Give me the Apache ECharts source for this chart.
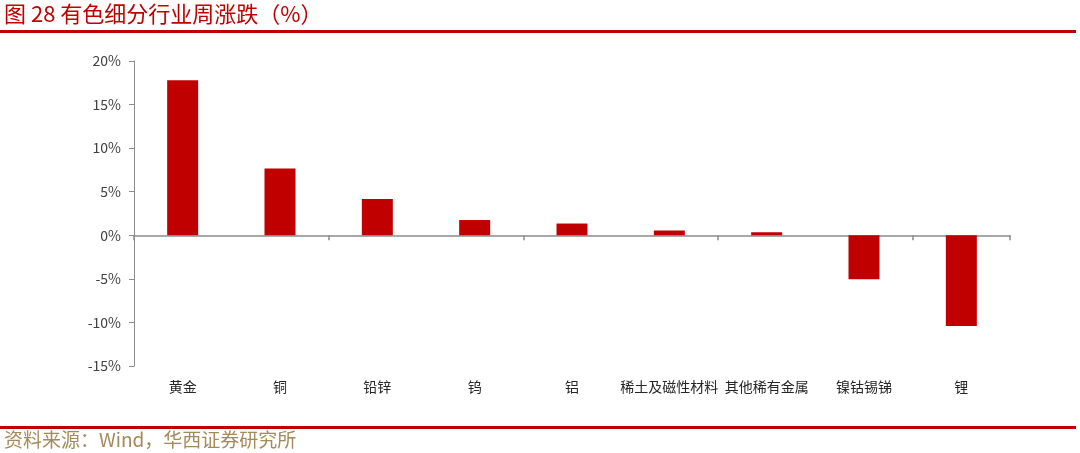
<!DOCTYPE html>
<html><head><meta charset="utf-8">
<script src="https://cdn.jsdelivr.net/npm/echarts@6/dist/echarts.min.js"></script>
<style>html,body{margin:0;padding:0;background:#fff}#c{width:1080px;height:453px}</style>
</head><body><div id="c"></div>
<script>
const categories = ['黄金','铜','铅锌','钨','铝','稀土及磁性材料','其他稀有金属','镍钴锡锑','锂'];
const values = [17.8, 7.65, 4.15, 1.75, 1.35, 0.55, 0.35, -5.05, -10.4];
const titleText = '图 28 有色细分行业周涨跌（%）';
const sourceText = '资料来源：Wind，华西证券研究所';
const chart = echarts.init(document.getElementById('c'));
const cjk = '"Noto Sans CJK SC", "Noto Sans", sans-serif';
chart.setOption({
  animation: false,
  backgroundColor: '#fff',
  grid: {left: 134, right: 70, top: 61, bottom: 87, containLabel: false},
  xAxis: [
    {type: 'category', data: categories, position: 'bottom',
     axisLine: {onZero: true, lineStyle: {color: '#8c8c8c', width: 1.5}},
     axisTick: {show: true, alignWithLabel: false, length: 5, lineStyle: {color: '#8c8c8c', width: 1.5}},
     axisLabel: {show: false}},
    {type: 'category', data: categories, position: 'bottom',
     axisLine: {show: false, onZero: false}, axisTick: {show: false},
     axisLabel: {show: true, color: '#262626', fontSize: 14, fontFamily: cjk, margin: 14, interval: 0}}
  ],
  yAxis: {type: 'value', min: -15, max: 20, interval: 5,
    axisLine: {show: true, lineStyle: {color: '#8c8c8c', width: 1}},
    axisTick: {show: true, length: 5, lineStyle: {color: '#8c8c8c'}},
    splitLine: {show: false},
    axisLabel: {formatter: '{value}%', color: '#404040', fontSize: 14, fontFamily: cjk, margin: 13}},
  series: [{type: 'bar', data: values, barWidth: 31, itemStyle: {color: '#C00000'}, xAxisIndex: 0}],
  graphic: [
    {type: 'text', left: 4, top: 3, style: {text: titleText, fill: '#C00000', font: '22px "Noto Sans CJK SC", serif'}},
    {type: 'rect', shape: {x: 0, y: 30, width: 1076, height: 3}, style: {fill: '#C00000'}},
    {type: 'rect', shape: {x: 0, y: 426, width: 1076, height: 3}, style: {fill: '#C00000'}},
    {type: 'text', left: 4, top: 430, style: {text: sourceText, fill: '#A4895A', font: '19px "Noto Sans CJK SC", serif'}}
  ]
});
</script></body></html>
